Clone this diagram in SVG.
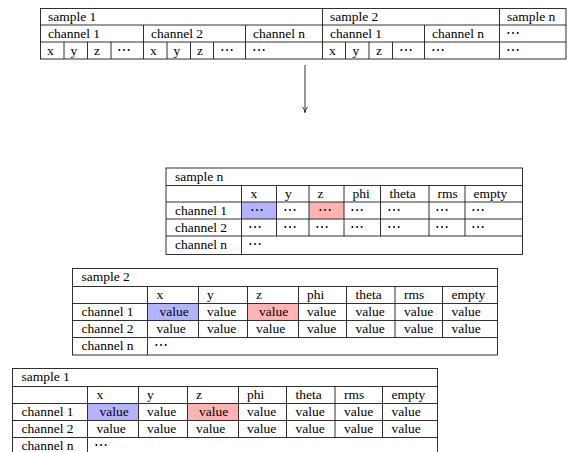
<svg xmlns="http://www.w3.org/2000/svg" width="570" height="452" viewBox="0 0 570 452">
<style>
.bg{fill:#fff}
.g{fill:none;stroke:#1a1a1a;stroke-width:0.9}
.t{font-family:"Liberation Serif","Times New Roman",serif;font-size:13.5px;fill:#000}
.blue{fill:#b3b3ff}
.red{fill:#ffb3b3}
</style>
<defs>
<marker id="ah" viewBox="0 0 10 10" refX="9" refY="5" markerWidth="7" markerHeight="7" orient="auto" markerUnits="userSpaceOnUse">
<path d="M1,1.5 Q5,4.5 9,5 Q5,5.5 1,8.5" fill="none" stroke="#1a1a1a" stroke-width="1.2"/>
</marker>
</defs>
<rect class="bg" x="0" y="0" width="570" height="452"/>

<g id="flat-table">
<rect class="g" x="40.5" y="8.5" width="525.5" height="50.5"/>
<path class="g" d="M40.5,25H566M40.5,42H566
M322.5,8.5V59M499.5,8.5V59
M143.5,25V59M245.5,25V59M424.5,25V59
M64,42V59M87.5,42V59M111,42V59M167,42V59M190.5,42V59M213.5,42V59M345.5,42V59M369,42V59M392.5,42V59"/>
<g class="t">
<text x="48" y="20.5">sample 1</text>
<text x="330" y="20.5">sample 2</text>
<text x="507" y="20.5">sample n</text>
<text x="48" y="37.5">channel 1</text>
<text x="151" y="37.5">channel 2</text>
<text x="253" y="37.5">channel n</text>
<text x="330" y="37.5">channel 1</text>
<text x="432" y="37.5">channel n</text>
<text x="506" y="37.5">⋯</text>
<text x="47" y="54.5">x</text>
<text x="70.5" y="54.5">y</text>
<text x="94" y="54.5">z</text>
<text x="117" y="54.5">⋯</text>
<text x="150" y="54.5">x</text>
<text x="173.5" y="54.5">y</text>
<text x="197" y="54.5">z</text>
<text x="220" y="54.5">⋯</text>
<text x="252" y="54.5">⋯</text>
<text x="329" y="54.5">x</text>
<text x="352.5" y="54.5">y</text>
<text x="376" y="54.5">z</text>
<text x="399" y="54.5">⋯</text>
<text x="431" y="54.5">⋯</text>
<text x="506" y="54.5">⋯</text>
</g>
</g>

<g id="connectors">
<line class="g" x1="305" y1="65" x2="305" y2="112.5" marker-end="url(#ah)"/>
</g>

<g id="table-sample-n">
<rect class="blue" x="241.5" y="202" width="35" height="17"/>
<rect class="red" x="309" y="202" width="35" height="17"/>
<rect class="g" x="166" y="168" width="356.5" height="86.5"/>
<path class="g" d="M166,185.5H522.5M166,202H522.5M166,219H522.5M166,236H522.5
M241.5,185.5V254.5
M276.5,185.5V236M309,185.5V236M344,185.5V236M380.5,185.5V236M429,185.5V236M465,185.5V236"/>
<g class="t">
<text x="175" y="180.5">sample n</text>
<text x="250.5" y="197.5">x</text>
<text x="285" y="197.5">y</text>
<text x="317.5" y="197.5">z</text>
<text x="352.5" y="197.5">phi</text>
<text x="389.5" y="197.5">theta</text>
<text x="437.5" y="197.5">rms</text>
<text x="473.5" y="197.5">empty</text>
<text x="175" y="214.5">channel 1</text>
<text x="250" y="214.5">⋯</text>
<text x="282.5" y="214.5">⋯</text>
<text x="318" y="214.5">⋯</text>
<text x="350" y="214.5">⋯</text>
<text x="386.5" y="214.5">⋯</text>
<text x="435" y="214.5">⋯</text>
<text x="471" y="214.5">⋯</text>
<text x="175" y="231.5">channel 2</text>
<text x="247.5" y="231.5">⋯</text>
<text x="282.5" y="231.5">⋯</text>
<text x="315" y="231.5">⋯</text>
<text x="350" y="231.5">⋯</text>
<text x="386.5" y="231.5">⋯</text>
<text x="435" y="231.5">⋯</text>
<text x="471" y="231.5">⋯</text>
<text x="175" y="249">channel n</text>
<text x="247.5" y="249">⋯</text>
</g>
</g>

<g id="table-sample-2">
<rect class="blue" x="147.5" y="303.5" width="51" height="17"/>
<rect class="red" x="247.5" y="303.5" width="51" height="17"/>
<rect class="g" x="72.5" y="268.5" width="425" height="86.5"/>
<path class="g" d="M72.5,286.5H497.5M72.5,303.5H497.5M72.5,320.5H497.5M72.5,337.5H497.5
M147.5,286.5V355
M198.5,286.5V337.5M247.5,286.5V337.5M298.5,286.5V337.5M346.5,286.5V337.5M395,286.5V337.5M442.5,286.5V337.5"/>
<g class="t">
<text x="81.5" y="281">sample 2</text>
<text x="156.5" y="299">x</text>
<text x="207" y="299">y</text>
<text x="256" y="299">z</text>
<text x="307" y="299">phi</text>
<text x="355.5" y="299">theta</text>
<text x="404" y="299">rms</text>
<text x="451.5" y="299">empty</text>
<text x="81.5" y="316">channel 1</text>
<text x="159.5" y="316">value</text>
<text x="207" y="316">value</text>
<text x="259" y="316">value</text>
<text x="307" y="316">value</text>
<text x="355.5" y="316">value</text>
<text x="404" y="316">value</text>
<text x="451.5" y="316">value</text>
<text x="81.5" y="333">channel 2</text>
<text x="156.5" y="333">value</text>
<text x="207" y="333">value</text>
<text x="256" y="333">value</text>
<text x="307" y="333">value</text>
<text x="355.5" y="333">value</text>
<text x="404" y="333">value</text>
<text x="451.5" y="333">value</text>
<text x="81.5" y="350">channel n</text>
<text x="154" y="350">⋯</text>
</g>
</g>

<g id="table-sample-1">
<rect class="blue" x="87.5" y="403.5" width="51" height="17"/>
<rect class="red" x="187.5" y="403.5" width="51" height="17"/>
<rect class="g" x="12.5" y="368.5" width="425" height="90"/>
<path class="g" d="M12.5,386.5H437.5M12.5,403.5H437.5M12.5,420.5H437.5M12.5,437.5H437.5
M87.5,386.5V458
M138.5,386.5V437.5M187.5,386.5V437.5M238.5,386.5V437.5M286.5,386.5V437.5M335,386.5V437.5M382.5,386.5V437.5"/>
<g class="t">
<text x="21.5" y="381">sample 1</text>
<text x="96.5" y="399">x</text>
<text x="147" y="399">y</text>
<text x="196" y="399">z</text>
<text x="247" y="399">phi</text>
<text x="295.5" y="399">theta</text>
<text x="344" y="399">rms</text>
<text x="391.5" y="399">empty</text>
<text x="21.5" y="416">channel 1</text>
<text x="99.5" y="416">value</text>
<text x="147" y="416">value</text>
<text x="199" y="416">value</text>
<text x="247" y="416">value</text>
<text x="295.5" y="416">value</text>
<text x="344" y="416">value</text>
<text x="391.5" y="416">value</text>
<text x="21.5" y="433">channel 2</text>
<text x="96.5" y="433">value</text>
<text x="147" y="433">value</text>
<text x="196" y="433">value</text>
<text x="247" y="433">value</text>
<text x="295.5" y="433">value</text>
<text x="344" y="433">value</text>
<text x="391.5" y="433">value</text>
<text x="21.5" y="450">channel n</text>
<text x="94" y="450">⋯</text>
</g>
</g>
</svg>
